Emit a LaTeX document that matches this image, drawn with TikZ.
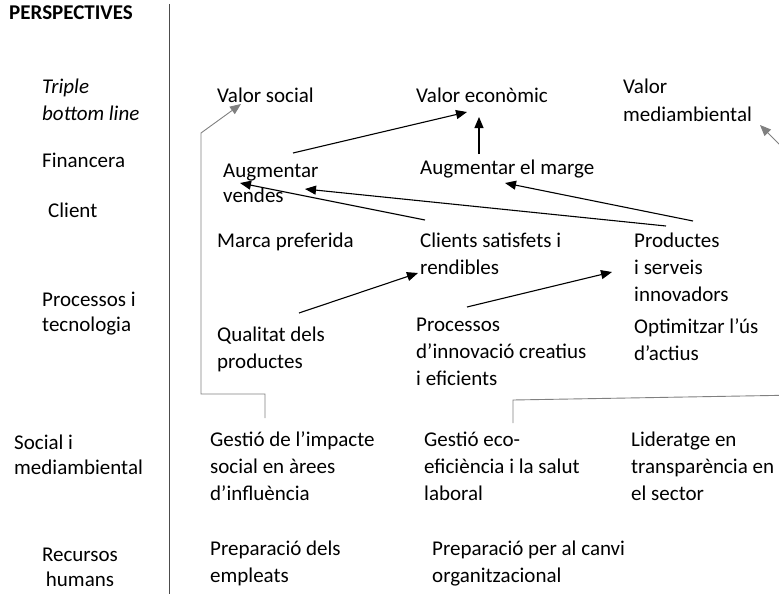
\documentclass[tikz,border=0pt]{standalone}
\usepackage{fontspec}
\setmainfont{Carlito}
\usetikzlibrary{arrows.meta}
\newcommand{\txl}[2][l]{\begin{tabular}[t]{@{}#1@{}}#2\end{tabular}}
\begin{document}
\begin{tikzpicture}[x=1pt,y=-1pt,
  lbl/.style={inner sep=0pt,anchor=base west,font=\fontsize{21}{26}\selectfont},
  arr/.style={line width=1.1pt,-{Triangle[length=11pt,width=9pt]}},
  garr/.style={line width=0.9pt,draw=black!50,-{Triangle[length=11pt,width=9pt]}},
  gline/.style={line width=0.9pt,draw=black!50}]
\useasboundingbox (0,0) rectangle (779,594);
\clip (0,0) rectangle (779,594);
% divider
\draw[line width=1pt,black!70] (169,4) -- (169,594);
% left column
\node[lbl,font=\fontsize{21}{26}\selectfont\bfseries] (persp) at (9,20) {PERSPECTIVES};
\node[lbl,font=\fontsize{21}{27}\selectfont\itshape] (tbl) at (42,93) {\txl{Triple\\bottom line}};
\node[lbl] (fin) at (42,167) {Financera};
\node[lbl] (cli) at (48,217) {Client};
\node[lbl,font=\fontsize{21}{25}\selectfont] (proct) at (42,306) {\txl{Processos i\\tecnologia}};
\node[lbl,font=\fontsize{21}{25}\selectfont] (socm) at (14,449) {\txl{Social i\\mediambiental}};
\node[lbl,anchor=base,font=\fontsize{21}{25}\selectfont] (rh) at (80,561) {\txl[c]{Recursos\\humans}};
% right column
\node[lbl] (vsoc) at (217,102) {Valor social};
\node[lbl] (vecon) at (416,102) {Valor econòmic};
\node[lbl,font=\fontsize{21}{28}\selectfont] (vmed) at (623,93) {\txl{Valor\\mediambiental}};
\node[lbl,font=\fontsize{21}{25}\selectfont] (augv) at (223,177) {\txl{Augmentar\\vendes}};
\node[lbl] (augm) at (420,174) {Augmentar el marge};
\node[lbl] (marca) at (217,247) {Marca preferida};
\node[lbl,font=\fontsize{21}{27}\selectfont] (clis) at (420,247) {\txl{Clients satisfets i\\rendibles}};
\node[lbl,font=\fontsize{21}{27}\selectfont] (prod) at (634,247) {\txl{Productes\\i serveis\\innovadors}};
\node[lbl,font=\fontsize{21}{27}\selectfont] (qual) at (217,341) {\txl{Qualitat dels\\productes}};
\node[lbl,font=\fontsize{21}{27}\selectfont] (proc) at (416,331) {\txl{Processos\\d’innovació creatius\\i eficients}};
\node[lbl,font=\fontsize{21}{27}\selectfont] (opt) at (634,333) {\txl{Optimitzar l’ús\\d’actius}};
\node[lbl,font=\fontsize{21}{27}\selectfont] (gimp) at (210,446) {\txl{Gestió de l’impacte\\social en àrees\\d’influència}};
\node[lbl,font=\fontsize{21}{27}\selectfont] (geco) at (424,446) {\txl{Gestió eco-\\eficiència i la salut\\laboral}};
\node[lbl,font=\fontsize{21}{27}\selectfont] (lid) at (631,446) {\txl{Lideratge en\\transparència en\\el sector}};
\node[lbl,font=\fontsize{21}{27}\selectfont] (prep1) at (210,555) {\txl{Preparació dels\\empleats}};
\node[lbl,font=\fontsize{21}{27}\selectfont] (prep2) at (432,555) {\txl{Preparació per al canvi\\organitzacional}};
% connector end points
\coordinate (a1s) at (293,153); \coordinate (a1e) at (467,112);
\coordinate (a2s) at (479,154); \coordinate (a2e) at (479,117);
\coordinate (a3s) at (425,220); \coordinate (a3e) at (240,183);
\coordinate (a4s) at (666,226); \coordinate (a4e) at (305,189);
\coordinate (a5s) at (693,221); \coordinate (a5e) at (505,183);
\coordinate (a6s) at (299,313); \coordinate (a6e) at (418,273);
\coordinate (a7s) at (467,307); \coordinate (a7e) at (612,272);
\coordinate (g1s) at (265,418); \coordinate (g1e) at (241,104);
\coordinate (g2s) at (513,423); \coordinate (g2e) at (760,125);
% black arrows
\draw[arr] (a1s) -- (a1e);
\draw[arr] (a2s) -- (a2e);
\draw[arr] (a3s) -- (a3e);
\draw[arr] (a4s) -- (a4e);
\draw[arr] (a5s) -- (a5e);
\draw[arr] (a6s) -- (a6e);
\draw[arr] (a7s) -- (a7e);
% gray arrows
\draw[garr] (g1s) -- (265,394) -- (201,394) -- (201,133) -- (g1e);
\draw[garr] (g2s) -- (513,400) -- (800,395) -- (800,165) -- (g2e);
\end{tikzpicture}
\end{document}
